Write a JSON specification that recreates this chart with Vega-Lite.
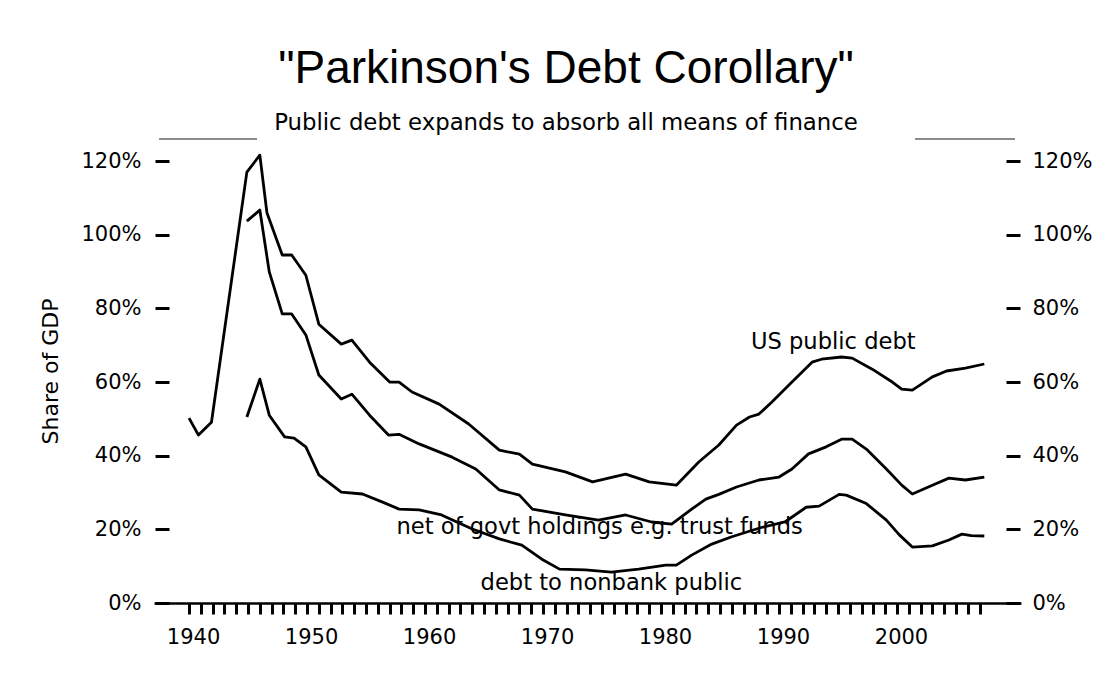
{
  "$schema": "https://vega.github.io/schema/vega-lite/v6.json",
  "width": 867,
  "height": 464,
  "autosize": {"type": "pad"},
  "padding": {"left": 39, "top": 46, "right": 10, "bottom": 10},
  "background": "white",
  "title": {
    "text": "\"Parkinson's Debt Corollary\"",
    "subtitle": "Public debt expands to absorb all  means of finance",
    "anchor": "middle",
    "frame": "bounds",
    "font": "Liberation Sans",
    "fontSize": 46,
    "fontWeight": "normal",
    "color": "black",
    "subtitleFont": "DejaVu Sans",
    "subtitleFontSize": 22.8,
    "subtitleColor": "black",
    "subtitlePadding": 19,
    "offset": 2
  },
  "config": {"view": {"stroke": null}, "axis": {"grid": false}},
  "datasets": {
    "series": [
      {"series": "US public debt", "year": 1940.0, "value": 50.2},
      {"series": "US public debt", "year": 1940.8, "value": 45.6},
      {"series": "US public debt", "year": 1941.9, "value": 49.1},
      {"series": "US public debt", "year": 1944.9, "value": 117.0},
      {"series": "US public debt", "year": 1946.0, "value": 121.6},
      {"series": "US public debt", "year": 1946.6, "value": 106.0},
      {"series": "US public debt", "year": 1947.9, "value": 94.5},
      {"series": "US public debt", "year": 1948.7, "value": 94.5},
      {"series": "US public debt", "year": 1949.9, "value": 89.0},
      {"series": "US public debt", "year": 1951.0, "value": 75.7},
      {"series": "US public debt", "year": 1952.9, "value": 70.3},
      {"series": "US public debt", "year": 1953.8, "value": 71.4},
      {"series": "US public debt", "year": 1955.3, "value": 65.4},
      {"series": "US public debt", "year": 1957.0, "value": 60.0},
      {"series": "US public debt", "year": 1957.8, "value": 60.0},
      {"series": "US public debt", "year": 1958.9, "value": 57.3},
      {"series": "US public debt", "year": 1961.2, "value": 54.0},
      {"series": "US public debt", "year": 1963.7, "value": 48.6},
      {"series": "US public debt", "year": 1966.3, "value": 41.5},
      {"series": "US public debt", "year": 1968.0, "value": 40.4},
      {"series": "US public debt", "year": 1969.1, "value": 37.7},
      {"series": "US public debt", "year": 1971.9, "value": 35.6},
      {"series": "US public debt", "year": 1974.2, "value": 32.9},
      {"series": "US public debt", "year": 1977.0, "value": 35.0},
      {"series": "US public debt", "year": 1979.0, "value": 32.9},
      {"series": "US public debt", "year": 1981.3, "value": 32.0},
      {"series": "US public debt", "year": 1983.2, "value": 38.3},
      {"series": "US public debt", "year": 1984.9, "value": 42.9},
      {"series": "US public debt", "year": 1986.4, "value": 48.3},
      {"series": "US public debt", "year": 1987.5, "value": 50.5},
      {"series": "US public debt", "year": 1988.3, "value": 51.3},
      {"series": "US public debt", "year": 1989.4, "value": 54.6},
      {"series": "US public debt", "year": 1991.1, "value": 60.0},
      {"series": "US public debt", "year": 1992.8, "value": 65.4},
      {"series": "US public debt", "year": 1993.6, "value": 66.2},
      {"series": "US public debt", "year": 1995.3, "value": 66.8},
      {"series": "US public debt", "year": 1996.2, "value": 66.5},
      {"series": "US public debt", "year": 1997.9, "value": 63.5},
      {"series": "US public debt", "year": 1999.6, "value": 60.0},
      {"series": "US public debt", "year": 2000.4, "value": 58.1},
      {"series": "US public debt", "year": 2001.3, "value": 57.8},
      {"series": "US public debt", "year": 2003.0, "value": 61.4},
      {"series": "US public debt", "year": 2004.2, "value": 63.0},
      {"series": "US public debt", "year": 2005.8, "value": 63.8},
      {"series": "US public debt", "year": 2007.4, "value": 64.9},

      {"series": "net of govt holdings", "year": 1944.9, "value": 103.7},
      {"series": "net of govt holdings", "year": 1946.0, "value": 106.7},
      {"series": "net of govt holdings", "year": 1946.8, "value": 89.9},
      {"series": "net of govt holdings", "year": 1947.9, "value": 78.5},
      {"series": "net of govt holdings", "year": 1948.7, "value": 78.5},
      {"series": "net of govt holdings", "year": 1949.9, "value": 72.8},
      {"series": "net of govt holdings", "year": 1951.0, "value": 61.9},
      {"series": "net of govt holdings", "year": 1952.9, "value": 55.4},
      {"series": "net of govt holdings", "year": 1953.8, "value": 56.7},
      {"series": "net of govt holdings", "year": 1955.3, "value": 51.0},
      {"series": "net of govt holdings", "year": 1956.9, "value": 45.6},
      {"series": "net of govt holdings", "year": 1957.8, "value": 45.8},
      {"series": "net of govt holdings", "year": 1959.5, "value": 43.2},
      {"series": "net of govt holdings", "year": 1962.3, "value": 39.6},
      {"series": "net of govt holdings", "year": 1964.3, "value": 36.4},
      {"series": "net of govt holdings", "year": 1966.3, "value": 30.7},
      {"series": "net of govt holdings", "year": 1968.0, "value": 29.3},
      {"series": "net of govt holdings", "year": 1969.1, "value": 25.5},
      {"series": "net of govt holdings", "year": 1971.9, "value": 23.9},
      {"series": "net of govt holdings", "year": 1974.7, "value": 22.5},
      {"series": "net of govt holdings", "year": 1977.0, "value": 23.9},
      {"series": "net of govt holdings", "year": 1979.2, "value": 22.0},
      {"series": "net of govt holdings", "year": 1980.9, "value": 21.4},
      {"series": "net of govt holdings", "year": 1982.6, "value": 25.5},
      {"series": "net of govt holdings", "year": 1983.8, "value": 28.2},
      {"series": "net of govt holdings", "year": 1984.9, "value": 29.5},
      {"series": "net of govt holdings", "year": 1986.4, "value": 31.5},
      {"series": "net of govt holdings", "year": 1988.3, "value": 33.4},
      {"series": "net of govt holdings", "year": 1990.0, "value": 34.2},
      {"series": "net of govt holdings", "year": 1991.1, "value": 36.4},
      {"series": "net of govt holdings", "year": 1992.5, "value": 40.5},
      {"series": "net of govt holdings", "year": 1994.0, "value": 42.4},
      {"series": "net of govt holdings", "year": 1995.3, "value": 44.5},
      {"series": "net of govt holdings", "year": 1996.2, "value": 44.5},
      {"series": "net of govt holdings", "year": 1997.4, "value": 41.8},
      {"series": "net of govt holdings", "year": 1999.1, "value": 36.4},
      {"series": "net of govt holdings", "year": 2000.4, "value": 32.0},
      {"series": "net of govt holdings", "year": 2001.3, "value": 29.6},
      {"series": "net of govt holdings", "year": 2003.0, "value": 32.0},
      {"series": "net of govt holdings", "year": 2004.4, "value": 33.9},
      {"series": "net of govt holdings", "year": 2005.8, "value": 33.4},
      {"series": "net of govt holdings", "year": 2007.4, "value": 34.2},

      {"series": "debt to nonbank public", "year": 1944.9, "value": 50.5},
      {"series": "debt to nonbank public", "year": 1946.0, "value": 60.8},
      {"series": "debt to nonbank public", "year": 1946.8, "value": 51.0},
      {"series": "debt to nonbank public", "year": 1948.1, "value": 45.1},
      {"series": "debt to nonbank public", "year": 1948.9, "value": 44.8},
      {"series": "debt to nonbank public", "year": 1949.9, "value": 42.4},
      {"series": "debt to nonbank public", "year": 1951.0, "value": 34.8},
      {"series": "debt to nonbank public", "year": 1952.9, "value": 30.1},
      {"series": "debt to nonbank public", "year": 1954.7, "value": 29.6},
      {"series": "debt to nonbank public", "year": 1956.4, "value": 27.4},
      {"series": "debt to nonbank public", "year": 1957.8, "value": 25.5},
      {"series": "debt to nonbank public", "year": 1959.5, "value": 25.3},
      {"series": "debt to nonbank public", "year": 1961.4, "value": 23.9},
      {"series": "debt to nonbank public", "year": 1964.0, "value": 20.1},
      {"series": "debt to nonbank public", "year": 1966.3, "value": 17.4},
      {"series": "debt to nonbank public", "year": 1968.2, "value": 15.7},
      {"series": "debt to nonbank public", "year": 1969.9, "value": 11.9},
      {"series": "debt to nonbank public", "year": 1971.4, "value": 9.2},
      {"series": "debt to nonbank public", "year": 1973.6, "value": 9.0},
      {"series": "debt to nonbank public", "year": 1975.8, "value": 8.4},
      {"series": "debt to nonbank public", "year": 1978.1, "value": 9.2},
      {"series": "debt to nonbank public", "year": 1980.4, "value": 10.3},
      {"series": "debt to nonbank public", "year": 1981.3, "value": 10.3},
      {"series": "debt to nonbank public", "year": 1982.6, "value": 13.0},
      {"series": "debt to nonbank public", "year": 1984.3, "value": 16.0},
      {"series": "debt to nonbank public", "year": 1986.0, "value": 18.0},
      {"series": "debt to nonbank public", "year": 1988.5, "value": 20.5},
      {"series": "debt to nonbank public", "year": 1990.5, "value": 22.0},
      {"series": "debt to nonbank public", "year": 1992.3, "value": 26.0},
      {"series": "debt to nonbank public", "year": 1993.4, "value": 26.3},
      {"series": "debt to nonbank public", "year": 1995.1, "value": 29.5},
      {"series": "debt to nonbank public", "year": 1995.7, "value": 29.3},
      {"series": "debt to nonbank public", "year": 1997.4, "value": 27.0},
      {"series": "debt to nonbank public", "year": 1999.1, "value": 22.5},
      {"series": "debt to nonbank public", "year": 2000.2, "value": 18.5},
      {"series": "debt to nonbank public", "year": 2001.3, "value": 15.2},
      {"series": "debt to nonbank public", "year": 2003.0, "value": 15.5},
      {"series": "debt to nonbank public", "year": 2004.4, "value": 17.1},
      {"series": "debt to nonbank public", "year": 2005.5, "value": 18.7},
      {"series": "debt to nonbank public", "year": 2006.3, "value": 18.3},
      {"series": "debt to nonbank public", "year": 2007.4, "value": 18.2}
    ],
    "labels": [
      {"label": "US public debt", "year": 1994.6, "value": 71.0},
      {"label": "net of  govt holdings e.g. trust funds", "year": 1974.8, "value": 20.6},
      {"label": "debt to nonbank public", "year": 1975.8, "value": 5.4}
    ],
    "rules": [
      {"year": 1937.46, "year2": 1945.76, "value": 126},
      {"year": 2001.53, "year2": 2010.0, "value": 126}
    ]
  },
  "layer": [
    {
      "data": {"name": "series"},
      "mark": {"type": "line", "color": "black", "strokeWidth": 2.8, "strokeJoin": "round"},
      "encoding": {
        "x": {
          "field": "year",
          "type": "quantitative",
          "scale": {"domain": [1937.03, 2010.51], "nice": false, "zero": false},
          "axis": {
            "title": null,
            "values": [1940,1941,1942,1943,1944,1945,1946,1947,1948,1949,1950,1951,1952,1953,1954,1955,1956,1957,1958,1959,1960,1961,1962,1963,1964,1965,1966,1967,1968,1969,1970,1971,1972,1973,1974,1975,1976,1977,1978,1979,1980,1981,1982,1983,1984,1985,1986,1987,1988,1989,1990,1991,1992,1993,1994,1995,1996,1997,1998,1999,2000,2001,2002,2003,2004,2005,2006,2007],
            "tickCount": 200,
            "labelExpr": "datum.value % 10 === 0 ? datum.value : ''",
            "labelFlush": false,
            "labelOverlap": false,
            "labelOffset": 4,
            "domainColor": "black",
            "domainWidth": 2.5,
            "tickColor": "black",
            "tickWidth": 3,
            "tickSize": 11,
            "labelFont": "DejaVu Sans",
            "labelFontSize": 21,
            "labelColor": "black",
            "labelPadding": 12,
            "grid": false
          }
        },
        "y": {
          "field": "value",
          "type": "quantitative",
          "scale": {"domain": [0, 126], "nice": false},
          "axis": {
            "orient": "left",
            "values": [0, 20, 40, 60, 80, 100, 120],
            "labelExpr": "datum.value + '%'",
            "title": "Share of GDP",
            "titleFont": "DejaVu Sans",
            "titleFontSize": 22,
            "titleFontWeight": "normal",
            "titleColor": "black",
            "titlePadding": 18,
            "domain": false,
            "tickSize": 14,
            "tickWidth": 3,
            "tickColor": "black",
            "offset": -15,
            "labelFont": "DejaVu Sans",
            "labelFontSize": 21,
            "labelColor": "black",
            "labelPadding": 14,
            "grid": false
          }
        },
        "detail": {"field": "series", "type": "nominal"}
      }
    },
    {
      "data": {"name": "labels"},
      "mark": {"type": "text", "font": "DejaVu Sans", "fontSize": 22.6, "color": "black", "align": "center", "baseline": "middle"},
      "encoding": {
        "x": {"field": "year", "type": "quantitative"},
        "y": {
          "field": "value",
          "type": "quantitative",
          "axis": {
            "orient": "right",
            "values": [0, 20, 40, 60, 80, 100, 120],
            "labelExpr": "datum.value + '%'",
            "title": null,
            "domain": false,
            "tickSize": 14,
            "tickWidth": 3,
            "tickColor": "black",
            "offset": -15,
            "labelFont": "DejaVu Sans",
            "labelFontSize": 21,
            "labelColor": "black",
            "labelPadding": 12,
            "grid": false
          }
        },
        "text": {"field": "label", "type": "nominal"}
      }
    },
    {
      "data": {"name": "rules"},
      "mark": {"type": "rule", "color": "#8c8c8c", "strokeWidth": 2},
      "encoding": {
        "x": {"field": "year", "type": "quantitative"},
        "x2": {"field": "year2"},
        "y": {"field": "value", "type": "quantitative", "axis": null}
      }
    }
  ],
  "resolve": {"axis": {"y": "independent"}}
}
